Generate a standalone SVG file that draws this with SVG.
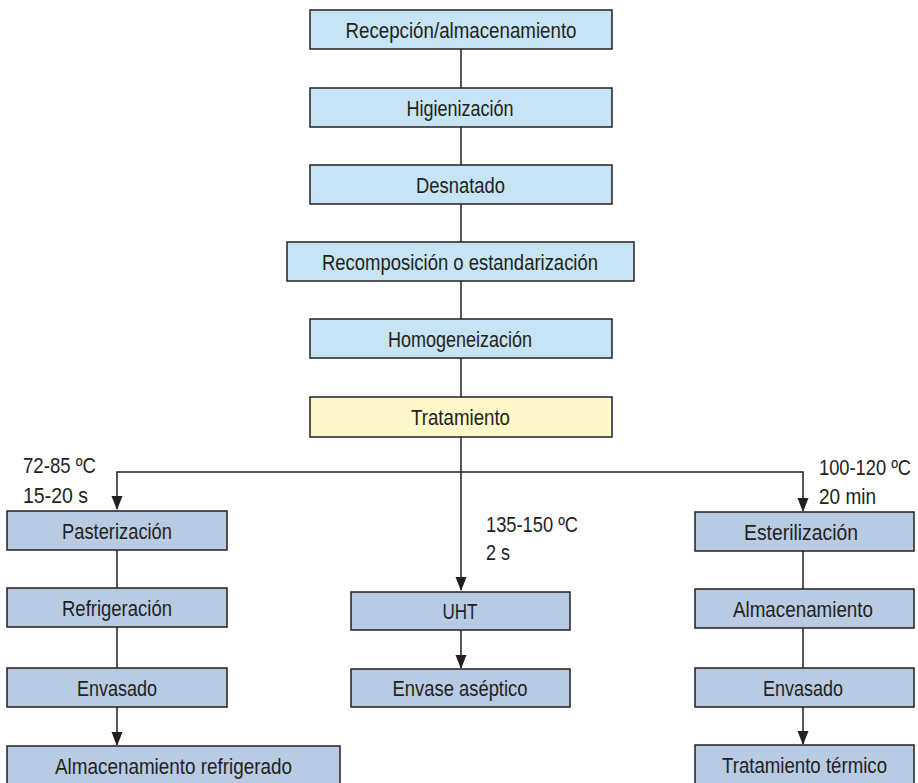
<svg xmlns="http://www.w3.org/2000/svg" width="918" height="783" viewBox="0 0 918 783">
  <style>
    .box { stroke: #231f20; stroke-width: 1.5; }
    .top { fill: #c6e4f4; }
    .hot { fill: #fdf7c9; }
    .low { fill: #b8cbe3; }
    .lbl { font-family: "Liberation Sans", Arial, sans-serif; font-size: 22.5px; fill: #231f20; text-anchor: middle; }
    .note { font-family: "Liberation Sans", Arial, sans-serif; font-size: 22.5px; fill: #231f20; }
    .wire { stroke: #231f20; stroke-width: 1.5; fill: none; }
  </style>
  <defs>
    <marker id="arrow" markerWidth="14" markerHeight="12" refX="13" refY="6" orient="auto" markerUnits="userSpaceOnUse">
      <path d="M0,0.5 L14,6 L0,11.5 Z" fill="#231f20"/>
    </marker>
  </defs>

  <rect width="918" height="783" fill="#ffffff"/>

  <g id="connectors">
    <line class="wire" x1="461" y1="49" x2="461" y2="88"/>
    <line class="wire" x1="461" y1="127" x2="461" y2="165"/>
    <line class="wire" x1="461" y1="204" x2="461" y2="242"/>
    <line class="wire" x1="461" y1="281" x2="461" y2="319"/>
    <line class="wire" x1="461" y1="358" x2="461" y2="397"/>
    <polyline class="wire" points="461,437 461,472"/>
    <polyline class="wire" points="461,472 117,472 117,509" marker-end="url(#arrow)"/>
    <polyline class="wire" points="461,472 803,472 803,511" marker-end="url(#arrow)"/>
    <line class="wire" x1="461" y1="472" x2="461" y2="590" marker-end="url(#arrow)"/>
    <line class="wire" x1="461" y1="630" x2="461" y2="668" marker-end="url(#arrow)"/>
    <line class="wire" x1="117" y1="550" x2="117" y2="588"/>
    <line class="wire" x1="117" y1="627" x2="117" y2="668"/>
    <line class="wire" x1="117" y1="707" x2="117" y2="745" marker-end="url(#arrow)"/>
    <line class="wire" x1="803" y1="551" x2="803" y2="589"/>
    <line class="wire" x1="803" y1="628" x2="803" y2="668"/>
    <line class="wire" x1="803" y1="707" x2="803" y2="744" marker-end="url(#arrow)"/>
  </g>

  <g id="recepcion">
    <rect class="box top" x="310" y="10" width="302" height="39"/>
    <text class="lbl" x="461" y="37.5" textLength="231" lengthAdjust="spacingAndGlyphs">Recepción/almacenamiento</text>
  </g>
  <g id="higienizacion">
    <rect class="box top" x="310" y="88" width="302" height="39"/>
    <text class="lbl" x="460" y="115.5" textLength="107" lengthAdjust="spacingAndGlyphs">Higienización</text>
  </g>
  <g id="desnatado">
    <rect class="box top" x="310" y="165" width="302" height="39"/>
    <text class="lbl" x="460.5" y="192.5" textLength="89" lengthAdjust="spacingAndGlyphs">Desnatado</text>
  </g>
  <g id="recomposicion">
    <rect class="box top" x="287" y="242" width="347" height="39"/>
    <text class="lbl" x="460" y="269.5" textLength="276" lengthAdjust="spacingAndGlyphs">Recomposición o estandarización</text>
  </g>
  <g id="homogeneizacion">
    <rect class="box top" x="310" y="319" width="302" height="39"/>
    <text class="lbl" x="460" y="346.5" textLength="144" lengthAdjust="spacingAndGlyphs">Homogeneización</text>
  </g>
  <g id="tratamiento">
    <rect class="box hot" x="310" y="397" width="302" height="40"/>
    <text class="lbl" x="460.5" y="424.5" textLength="99" lengthAdjust="spacingAndGlyphs">Tratamiento</text>
  </g>

  <g id="cond-pasterizacion">
    <text class="note" x="23" y="473" textLength="73" lengthAdjust="spacingAndGlyphs">72-85 ºC</text>
    <text class="note" x="23" y="503" textLength="65" lengthAdjust="spacingAndGlyphs">15-20 s</text>
  </g>
  <g id="cond-uht">
    <text class="note" x="486" y="532" textLength="92" lengthAdjust="spacingAndGlyphs">135-150 ºC</text>
    <text class="note" x="486" y="560" textLength="24" lengthAdjust="spacingAndGlyphs">2 s</text>
  </g>
  <g id="cond-esterilizacion">
    <text class="note" x="819" y="475" textLength="92" lengthAdjust="spacingAndGlyphs">100-120 ºC</text>
    <text class="note" x="819" y="504" textLength="57" lengthAdjust="spacingAndGlyphs">20 min</text>
  </g>

  <g id="pasterizacion">
    <rect class="box low" x="7" y="511" width="220" height="39"/>
    <text class="lbl" x="117" y="538.5" textLength="110" lengthAdjust="spacingAndGlyphs">Pasterización</text>
  </g>
  <g id="refrigeracion">
    <rect class="box low" x="7" y="588" width="220" height="39"/>
    <text class="lbl" x="117" y="615.5" textLength="110" lengthAdjust="spacingAndGlyphs">Refrigeración</text>
  </g>
  <g id="envasado-1">
    <rect class="box low" x="7" y="668" width="220" height="39"/>
    <text class="lbl" x="117" y="695.5" textLength="80" lengthAdjust="spacingAndGlyphs">Envasado</text>
  </g>
  <g id="almacenamiento-refrigerado">
    <rect class="box low" x="7" y="746" width="333" height="45"/>
    <text class="lbl" x="173.5" y="773.5" textLength="237" lengthAdjust="spacingAndGlyphs">Almacenamiento refrigerado</text>
  </g>

  <g id="uht">
    <rect class="box low" x="351" y="592" width="219" height="38"/>
    <text class="lbl" x="460" y="619" textLength="35" lengthAdjust="spacingAndGlyphs">UHT</text>
  </g>
  <g id="envase-aseptico">
    <rect class="box low" x="351" y="669" width="219" height="38"/>
    <text class="lbl" x="460" y="696" textLength="135" lengthAdjust="spacingAndGlyphs">Envase aséptico</text>
  </g>

  <g id="esterilizacion">
    <rect class="box low" x="695" y="512" width="219" height="39"/>
    <text class="lbl" x="801" y="539.5" textLength="114" lengthAdjust="spacingAndGlyphs">Esterilización</text>
  </g>
  <g id="almacenamiento">
    <rect class="box low" x="695" y="589" width="219" height="39"/>
    <text class="lbl" x="803" y="617" textLength="140" lengthAdjust="spacingAndGlyphs">Almacenamiento</text>
  </g>
  <g id="envasado-2">
    <rect class="box low" x="695" y="668" width="219" height="39"/>
    <text class="lbl" x="803" y="695.5" textLength="80" lengthAdjust="spacingAndGlyphs">Envasado</text>
  </g>
  <g id="tratamiento-termico">
    <rect class="box low" x="695" y="745" width="219" height="46"/>
    <text class="lbl" x="804.5" y="772.5" textLength="165" lengthAdjust="spacingAndGlyphs">Tratamiento térmico</text>
  </g>
</svg>
